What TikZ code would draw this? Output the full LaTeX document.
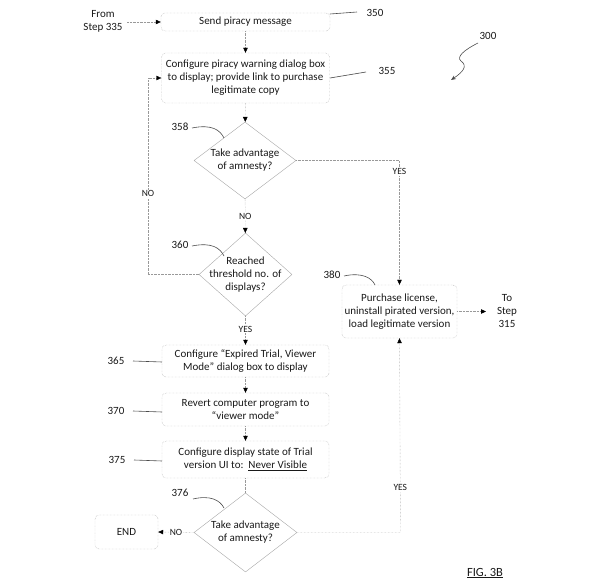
\documentclass[tikz,border=0pt]{standalone}
\usepackage{fontspec}
\setmainfont{Carlito}
\usetikzlibrary{arrows.meta,shapes.geometric}
\begin{document}
\begin{tikzpicture}[x=1pt,y=-1pt,
  every node/.style={font=\fontsize{11}{13}\selectfont, text=black!90},
  stepbox/.style={draw=gray!80, densely dotted, rounded corners=4pt, align=center, inner sep=0pt},
  dia/.style={diamond, draw=gray!70, inner sep=0pt},
  conn/.style={draw=gray!80, densely dotted, -{Triangle[black,length=5pt,width=4.5pt]}},
  plain/.style={draw=gray!80, densely dotted},
  lead/.style={draw=black!70, line width=0.6pt},
  lbl/.style={fill=white, inner sep=1pt, font=\fontsize{9.5}{11}\selectfont}
]
\useasboundingbox (0,0) rectangle (600,588);

% nodes
\node[align=center] (from) at (103,21) {From\\Step 335};
\coordinate (fromend) at (127,22);
\node[stepbox, minimum width=169pt, minimum height=18pt] (b350) at (245.5,22) {Send piracy message};
\node[stepbox, minimum width=168pt, minimum height=50pt] (b355) at (245.5,78) {Configure piracy warning dialog box\\to display; provide link to purchase\\legitimate copy};
\node[dia, minimum width=102pt, minimum height=77pt] (d358) at (245,160.5) {};
\node[align=center] (t358) at (d358) {Take advantage\\of amnesty?};
\node[dia, minimum width=93pt, minimum height=83pt] (d360) at (245.5,274.5) {};
\node[align=center] (t360) at (d360) {Reached\\threshold no. of\\displays?};
\node[stepbox, minimum width=115pt, minimum height=53pt] (b380) at (399.5,311.5) {Purchase license,\\uninstall pirated version,\\load legitimate version};
\node[align=center] (to315) at (507,311) {To\\Step\\315};
\node[stepbox, minimum width=167pt, minimum height=32pt] (b365) at (245.5,361) {Configure ``Expired Trial, Viewer\\Mode'' dialog box to display};
\node[stepbox, minimum width=167pt, minimum height=33pt] (b370) at (245.5,409.5) {Revert computer program to\\``viewer mode''};
\node[stepbox, minimum width=167pt, minimum height=37pt] (b375) at (245.5,459.5) {Configure display state of Trial\\version UI to:\ \ \underline{Never Visible}};
\node[dia, minimum width=103pt, minimum height=79pt] (d376) at (245.5,532.5) {};
\node[align=center] (t376) at (d376) {Take advantage\\of amnesty?};
\node[stepbox, minimum width=63pt, minimum height=34pt] (end) at (126.5,532) {END};

% reference labels
\node (l350) at (375,13) {350};
\node (l355) at (387,71) {355};
\node (l300) at (488,36) {300};
\node (l358) at (180,127) {358};
\node (l360) at (180,245) {360};
\node (l380) at (332,275) {380};
\node (l365) at (116,361) {365};
\node (l370) at (116,411) {370};
\node (l375) at (117,460) {375};
\node (l376) at (180,493) {376};
\node[font=\fontsize{12.5}{14}\selectfont] (fig) at (485,573) {\underline{FIG. 3B}};

% leader lines
\draw[lead] (330,14) -- (357,12);
\draw[lead] (330,78) -- (366,72);
\draw[lead] (192,128) .. controls (212,124) and (220,130) .. (224,138);
\draw[lead] (192,246) .. controls (212,242) and (220,248) .. (224,256);
\draw[lead] (344,276) .. controls (362,272) and (372,278) .. (375,285);
\draw[lead] (193,499) .. controls (210,495) and (220,500) .. (224,508);
\draw[lead] (133,361) -- (162,362);
\draw[lead] (133,411) -- (162,412);
\draw[lead] (134,460) -- (162,461);
\draw[lead, -{Stealth[length=5pt,width=4pt]}] (478,43) .. controls (464,50) and (456,57) .. (461,61) .. controls (468,66) and (463,72) .. (451,80);

% connectors
\draw[conn] (fromend) -- (b350.west);
\draw[conn] (b350) -- (b355);
\draw[conn] (b355) -- (d358);
\draw[conn] (d358) -- node[lbl, pos=0.5]{NO} (d360);
\draw[conn] (d358.east) -- (399.5,160.5) -- node[lbl, pos=0.09]{YES} (b380.north);
\draw[conn] (d360.west) -- (148,274.5) -- node[lbl, pos=0.41]{NO} (148,78) -- (b355.west);
\draw[conn] (d360) -- node[lbl, pos=0.45]{YES} (b365);
\draw[conn] (b380.east) -- (486,311.5);
\draw[conn] (b365) -- (b370);
\draw[conn] (b370) -- (b375);
\draw[plain] (b375) -- (d376);
\draw[conn] (d376.west) -- node[lbl, pos=0.5]{NO} (end.east);
\draw[conn] (d376.east) -- (400.5,532.5) -- node[lbl, pos=0.23]{YES} (b380.south);
\end{tikzpicture}
\end{document}
